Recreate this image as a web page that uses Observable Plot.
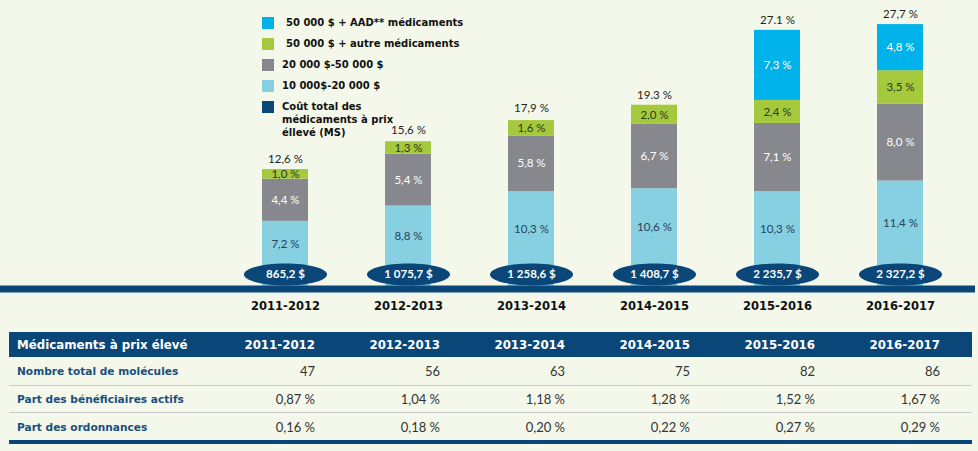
<!DOCTYPE html>
<html><head><meta charset="utf-8">
<script src="https://cdn.jsdelivr.net/npm/d3@7"></script>
<script src="https://cdn.jsdelivr.net/npm/@observablehq/plot@0.6"></script>
<style>
body{margin:0;background:#f4f8ea;}
#wrap{position:relative;width:978px;height:451px;overflow:hidden;background:#f4f8ea;}
#chart{position:absolute;left:0;top:0;}
#legend{position:absolute;left:262px;top:17px;font-family:"DejaVu Sans";font-weight:bold;font-size:10px;color:#111;}
.lg{display:flex;align-items:flex-start;height:21px;}
.sw{width:12px;height:12px;flex:none;}
.lt{margin-left:8px;line-height:12px;white-space:pre;}
.lg.ind .lt{margin-left:12px;}
.lg.multi .lt{line-height:13px;margin-top:-1px;}
table{position:absolute;left:9px;top:332px;border-collapse:collapse;table-layout:fixed;width:963px;}
th{background:#0a4778;color:#fff;font-family:"DejaVu Sans";font-weight:bold;font-size:11.8px;height:25px;padding:0;text-align:right;}
th:first-child{text-align:left;padding-left:8px;}
td{font-family:Lato;font-size:13px;color:#333;text-align:right;padding:0;}
td:first-child{text-align:left;padding-left:8px;font-family:"DejaVu Sans";font-weight:bold;font-size:10.6px;color:#1b4e7e;}
th:last-child,td:last-child{padding-right:32px;}
tr.r1 td{height:28px;border-bottom:1px solid #c8c8c8;}
tr.r2 td{height:26px;border-bottom:1px solid #c8c8c8;}
tr.r3 td{height:27px;border-bottom:4px solid #0a4778;}
</style></head>
<body><div id="wrap"><div id="chart"></div><div id="legend"></div><table id="tbl"></table></div>
<script>
const years = ["2011-2012","2012-2013","2013-2014","2014-2015","2015-2016","2016-2017"];
const seriesNames = ["10 000$-20 000 $","20 000 $-50 000 $","50 000 $ + autre médicaments","50 000 $ + AAD** médicaments"];
const v10_20 = [7.2, 8.8, 10.3, 10.6, 10.3, 11.4];
const v20_50 = [4.4, 5.4, 5.8, 6.7, 7.1, 8.0];
const v50autre = [1.0, 1.3, 1.6, 2.0, 2.4, 3.5];
const v50aad = [0, 0, 0, 0, 7.3, 4.8];
const totalValues = [12.6, 15.6, 17.9, 19.3, 27.1, 27.7];
const totalLabels = ["12,6 %","15,6 %","17,9 %","19.3 %","27.1 %","27,7 %"];
const costLabels = ["865,2 $","1 075,7 $","1 258,6 $","1 408,7 $","2 235,7 $","2 327,2 $"];
const seriesColors = ["#86d0e2","#86888d","#a5c93d","#00b2ea"];
const labelColors = ["#27465a","#ffffff","#28391a","#ffffff"];
const navy = "#0a4778";

const legendLabels = ["50 000 $ + AAD** médicaments","50 000 $ + autre médicaments","20 000 $-50 000 $","10 000$-20 000 $","Coût total des\nmédicaments à prix\néllevé (MS)"];
const legendColors = ["#00b2ea","#a5c93d","#86888d","#86d0e2","#0a4778"];

const tableTitle = "Médicaments à prix élevé";
const rowLabels = ["Nombre total de molécules","Part des bénéficiaires actifs","Part des ordonnances"];
const molecules = ["47","56","63","75","82","86"];
const partBenef = ["0,87 %","1,04 %","1,18 %","1,28 %","1,52 %","1,67 %"];
const partOrd = ["0,16 %","0,18 %","0,20 %","0,22 %","0,27 %","0,29 %"];

const seriesValues = [v10_20, v20_50, v50autre, v50aad];
const long = [];
years.forEach((y, i) => seriesNames.forEach((s, j) => long.push({year: y, series: s, si: j, value: seriesValues[j][i]})));
const fmt = v => v.toFixed(1).replace(".", ",") + " %";

const ellipse = {draw(ctx) {
  const rx = 41.5, ry = 11, k = 0.5523;
  ctx.moveTo(rx, 0);
  ctx.bezierCurveTo(rx, ry*k, rx*k, ry, 0, ry);
  ctx.bezierCurveTo(-rx*k, ry, -rx, ry*k, -rx, 0);
  ctx.bezierCurveTo(-rx, -ry*k, -rx*k, -ry, 0, -ry);
  ctx.bezierCurveTo(rx*k, -ry, rx, -ry*k, rx, 0);
  ctx.closePath();
}};

const segText = (pred, fill, dy) => Plot.text(long, Plot.stackY({
  x: "year", y: "value",
  text: d => (d.value > 0 && pred(d)) ? fmt(d.value) : null,
  fill, fontSize: 11.5, dy
}));

const chart = Plot.plot({
  width: 978, height: 320, marginTop: 2, marginBottom: 30, marginLeft: 0, marginRight: 3,
  style: {background: "transparent", fontFamily: "Lato"},
  x: {domain: years, range: [222.3, 962.7], paddingInner: 0.627, paddingOuter: 0.3135, label: null},
  y: {domain: [0, 30], axis: null},
  color: {domain: seriesNames, range: seriesColors},
  marks: [
    Plot.barY(long, {x: "year", y: "value", fill: "series"}),
    Plot.ruleY([0], {stroke: navy, strokeWidth: 7, dy: -1.5}),
    Plot.dot(years, {x: d => d, y: 0, dy: -16, symbol: ellipse, fill: navy, stroke: null}),
    Plot.text(years, {x: d => d, y: 0, dy: -16, text: costLabels, fill: "white", fontWeight: "bold", fontSize: 11.5, fontFamily: "Lato"}),
    segText(d => d.si === 0, "#28425a", -12),
    segText(d => d.si === 2, "#2a3a1c", 0),
    segText(d => d.si === 1 || d.si === 3, "#ffffff", 0),
    Plot.text(years, {x: d => d, y: totalValues, text: totalLabels, dy: -10, fill: "#222", fontSize: 11.5}),
    Plot.axisX({tickSize: 0, tickPadding: 11, fontWeight: "bold", fontSize: 11.5, fontFamily: "DejaVu Sans", fill: "#111"})
  ]
});
document.getElementById("chart").appendChild(chart);

const lg = document.getElementById("legend");
legendLabels.forEach((t, i) => {
  const row = document.createElement("div");
  row.className = "lg" + (i < 2 ? " ind" : "") + (t.includes("\n") ? " multi" : "");
  const sw = document.createElement("div"); sw.className = "sw"; sw.style.background = legendColors[i];
  const tx = document.createElement("div"); tx.className = "lt"; tx.textContent = t;
  row.appendChild(sw); row.appendChild(tx); lg.appendChild(row);
});

const tbl = document.getElementById("tbl");
const cg = document.createElement("colgroup");
[181,125,125,125,125,125,157].forEach(w => { const c = document.createElement("col"); c.style.width = w + "px"; cg.appendChild(c); });
tbl.appendChild(cg);
const head = document.createElement("tr");
[tableTitle, ...years].forEach(t => { const th = document.createElement("th"); th.textContent = t; head.appendChild(th); });
tbl.appendChild(head);
[molecules, partBenef, partOrd].forEach((vals, r) => {
  const tr = document.createElement("tr"); tr.className = "r" + (r + 1);
  [rowLabels[r], ...vals].forEach(t => { const td = document.createElement("td"); td.textContent = t; tr.appendChild(td); });
  tbl.appendChild(tr);
});
</script></body></html>
